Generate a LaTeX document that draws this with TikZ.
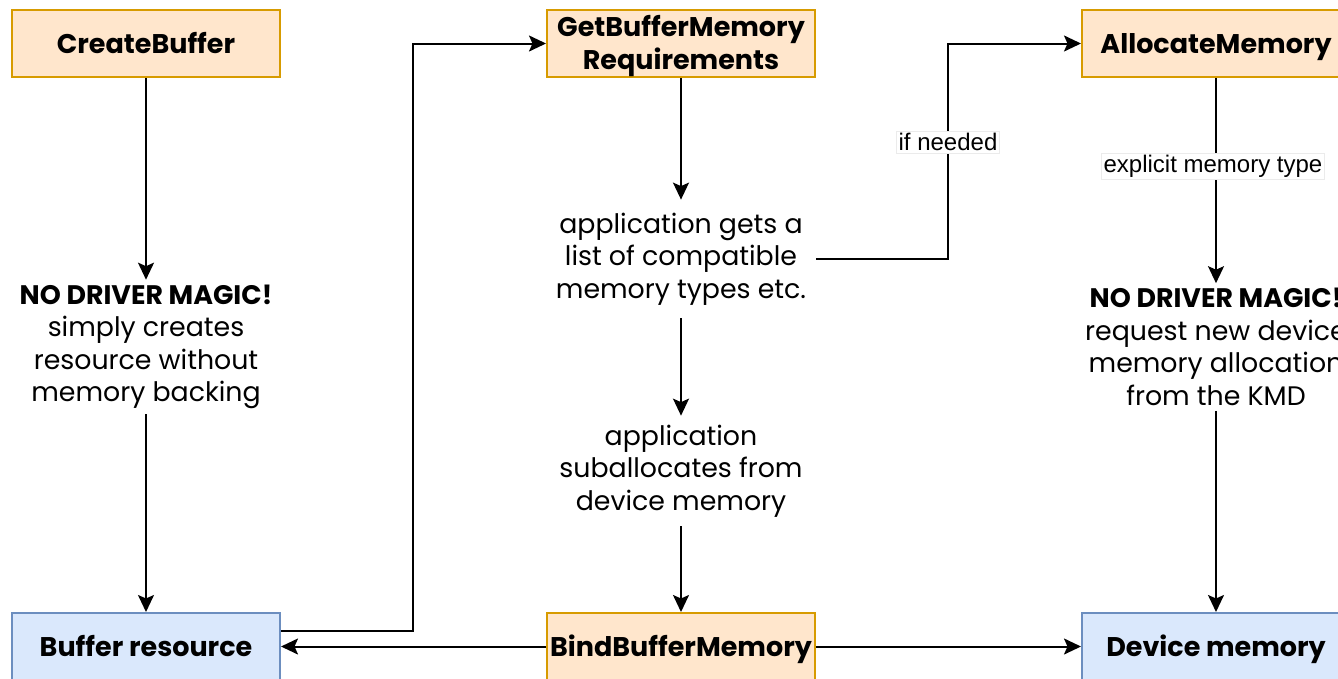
\documentclass[tikz,border=0pt]{standalone}
\usepackage{fontspec}
\setmainfont{Poppins}
\newfontfamily\arialf{Liberation Sans}
\usetikzlibrary{arrows.meta,calc}
\definecolor{ofill}{HTML}{FFE6CC}
\definecolor{ostroke}{HTML}{D79B00}
\definecolor{bfill}{HTML}{DAE8FC}
\definecolor{bstroke}{HTML}{6C8EBF}
\begin{document}
\begin{tikzpicture}[x=1pt,y=-1pt,
 box/.style={draw, line width=2pt, minimum width=268pt, minimum height=67pt, inner sep=0pt, align=center, font=\fontsize{27}{33}\selectfont\bfseries},
 sbox/.style={text height=24pt, text depth=5pt},
 obox/.style={box, fill=ofill, draw=ostroke},
 bbox/.style={box, fill=bfill, draw=bstroke},
 txt/.style={align=center, inner xsep=8pt, font=\fontsize{26.8}{32.5}\selectfont},
 lbl/.style={fill=white, draw=black!8, line width=0.6pt, inner sep=2pt, font=\arialf\fontsize{24}{26}\selectfont},
 arr/.style={line width=2pt, -{Stealth[length=17pt,width=16pt,inset=3.5pt]}}
]
\useasboundingbox (0,0) rectangle (1338,678);
\clip (0,0) rectangle (1338,678);
\coordinate (v1) at (948,0);
\coordinate (v2) at (413,0);
\node[obox, sbox] (cb) at (146,43.5) {CreateBuffer};
\node[obox] (gb) at (681,43.5) {\rule{0pt}{27pt}GetBufferMemory\\Requirements};
\node[obox, sbox] (am) at (1216,43.5) {AllocateMemory};
\node[bbox, sbox] (br) at (146,646.5) {Buffer resource};
\node[obox, sbox] (bb) at (681,646.5) {BindBufferMemory};
\node[bbox, sbox] (dm) at (1216,646.5) {Device memory};
\node[txt, inner ysep=5pt] (t1) at (146,347) {\textbf{NO DRIVER MAGIC!}\\simply creates\\resource without\\memory backing};
\node[txt, inner ysep=13pt, inner xsep=10pt] (t2) at (681,259) {application gets a\\list of compatible\\memory types etc.};
\node[txt, inner ysep=9pt] (t3) at (681,471) {application\\suballocates from\\device memory};
\node[txt, inner ysep=5pt] (t4) at (1216,347) {\textbf{NO DRIVER MAGIC!}\\request new device\\memory allocation\\from the KMD};
\coordinate (bo) at ($(br.east)+(0,-16)$);
\draw[arr] (cb) -- (t1);
\draw[arr] (t1) -- (br);
\draw[arr] (gb) -- (t2);
\draw[arr] (t2) -- (t3);
\draw[arr] (t3) -- (bb);
\draw[arr] (am) -- (t4);
\draw[arr] (t4) -- (dm);
\draw[arr] (t2.east) -- (t2.east -| v1) |- (am.west);
\draw[arr] (bo) -- (bo -| v2) |- (gb.west);
\draw[arr] (bb) -- (br);
\draw[arr] (bb) -- (dm);
\node[lbl] (l1) at (948,142) {if needed};
\node[lbl] (l2) at (1213,166) {explicit memory type};
\end{tikzpicture}
\end{document}
